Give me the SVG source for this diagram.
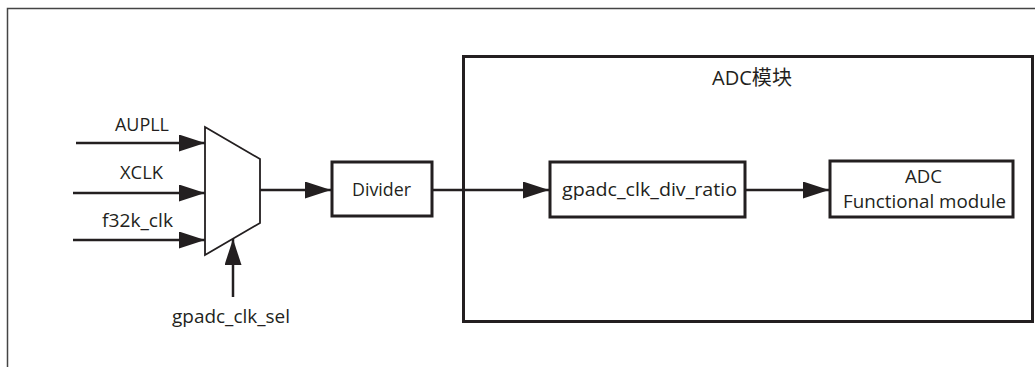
<svg xmlns="http://www.w3.org/2000/svg" width="1035" height="367" viewBox="0 0 1035 367">
<defs>
<style>
.t{font-family:"Open Sans","Liberation Sans","Noto Sans CJK SC",sans-serif;font-size:18.5px;fill:#231f20}
.box{fill:#fff;stroke:#231f20;stroke-width:3}
.ln{fill:none;stroke:#231f20;stroke-width:2.5}
</style>
<marker id="ah" viewBox="0 0 26 17" refX="26" refY="8.5" markerWidth="26" markerHeight="17" markerUnits="userSpaceOnUse" orient="auto">
<path d="M0,0 L26,8.5 L0,17 Z" fill="#231f20"/>
</marker>
</defs>
<rect width="1035" height="367" fill="#fff"/>
<g id="frame"><path d="M7.5,367 V8.5 H1035" fill="none" stroke="#444" stroke-width="1.5"/></g>
<g id="adc-block">
<rect class="box" x="463.5" y="56.5" width="569" height="265"/>
<text class="t" x="712" y="85" style="font-size:20px" textLength="80" lengthAdjust="spacingAndGlyphs">ADC模块</text>
</g>
<g id="mux">
<path d="M205,127 L260,159 L260,223 L205,255 Z" fill="#fff" stroke="#231f20" stroke-width="1.8"/>
</g>
<g id="divider">
<rect class="box" x="332" y="162" width="100" height="54"/>
<text class="t" x="352" y="196" textLength="59" lengthAdjust="spacingAndGlyphs">Divider</text>
</g>
<g id="ratio">
<rect class="box" x="550" y="162" width="195" height="55"/>
<text class="t" x="562" y="196" textLength="175" lengthAdjust="spacingAndGlyphs">gpadc_clk_div_ratio</text>
</g>
<g id="adc-func">
<rect class="box" x="830" y="161" width="183" height="56"/>
<text class="t" x="905" y="183" textLength="37" lengthAdjust="spacingAndGlyphs">ADC</text>
<text class="t" x="843" y="208" textLength="163" lengthAdjust="spacingAndGlyphs">Functional module</text>
</g>
<g id="labels">
<text class="t" x="115" y="131" textLength="54" lengthAdjust="spacingAndGlyphs">AUPLL</text>
<text class="t" x="120" y="179" textLength="43" lengthAdjust="spacingAndGlyphs">XCLK</text>
<text class="t" x="102" y="227" textLength="71" lengthAdjust="spacingAndGlyphs">f32k_clk</text>
<text class="t" x="172" y="323" textLength="118" lengthAdjust="spacingAndGlyphs">gpadc_clk_sel</text>
</g>
<g id="connectors">
<line class="ln" x1="76" y1="143" x2="205" y2="143" marker-end="url(#ah)"/>
<line class="ln" x1="73" y1="193" x2="205" y2="193" marker-end="url(#ah)"/>
<line class="ln" x1="73" y1="240" x2="205" y2="240" marker-end="url(#ah)"/>
<line class="ln" x1="233" y1="297" x2="233" y2="239" marker-end="url(#ah)"/>
<line class="ln" x1="260" y1="190" x2="331" y2="190" marker-end="url(#ah)" stroke-width="2"/>
<line class="ln" x1="432" y1="190" x2="549" y2="190" marker-end="url(#ah)"/>
<line class="ln" x1="745" y1="190" x2="829" y2="190" marker-end="url(#ah)"/>
</g>
</svg>
